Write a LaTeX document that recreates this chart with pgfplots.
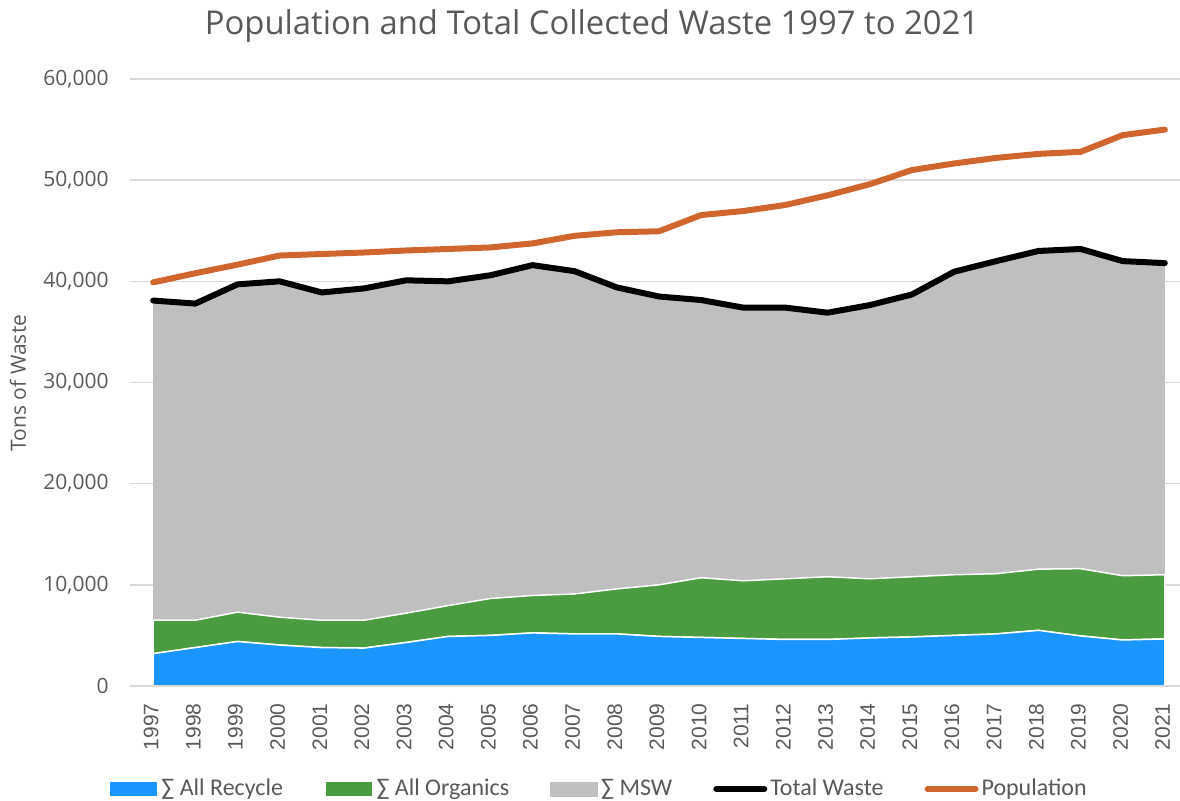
\documentclass[border=0pt]{standalone}
\usepackage{pgfplots}
\pgfplotsset{compat=1.18}
\usepackage{pgfplotstable}
\usepackage{fontspec}
\setmainfont{Open Sans}
\newfontfamily\carlito{Carlito}
\newfontfamily\libsans{Liberation Sans}
\definecolor{txtgray}{HTML}{595959}
\definecolor{gridgray}{HTML}{D9D9D9}
\definecolor{recblue}{HTML}{1B95FF}
\definecolor{orggreen}{HTML}{4B9B41}
\definecolor{mswgray}{HTML}{BFBFBF}
\definecolor{poporange}{HTML}{D0662E}

\pgfplotstableread{
year recycle organics msw total pop
1997 3200 3300 31600 38100 39900
1998 3800 2700 31300 37800 40800
1999 4400 2900 32400 39700 41650
2000 4050 2750 33200 40000 42550
2001 3800 2700 32400 38900 42700
2002 3750 2750 32800 39300 42850
2003 4300 2900 32900 40100 43050
2004 4900 3050 32050 40000 43200
2005 5000 3650 31950 40600 43350
2006 5250 3700 32650 41600 43750
2007 5150 3950 31900 41000 44500
2008 5150 4450 29800 39400 44850
2009 4900 5100 28500 38500 44950
2010 4800 5900 27450 38150 46550
2011 4700 5700 27000 37400 46950
2012 4600 6000 26800 37400 47550
2013 4600 6200 26100 36900 48500
2014 4750 5850 27050 37650 49600
2015 4850 5950 27900 38700 51000
2016 5000 6000 29950 40950 51650
2017 5150 5950 30900 42000 52200
2018 5500 6050 31450 43000 52600
2019 4950 6650 31600 43200 52800
2020 4550 6350 31100 42000 54450
2021 4650 6350 30800 41800 55000
}\datatable

\begin{document}
\begin{tikzpicture}
\useasboundingbox (0,0) rectangle (590bp,400.5bp);
\pgfplotsset{
  common/.style={
    scale only axis,
    width=525bp, height=303.5bp,
    at={(65bp,57.5bp)}, anchor=south west,
    xmin=1996.45, xmax=2021.36,
    ymin=0, ymax=60000,
  }
}
\begin{axis}[
  common,
  stack plots=y,
  axis line style={draw=none},
  major tick length=0pt,
  ytick={0,10000,...,60000},
  scaled y ticks=false,
  ymajorgrids,
  grid style={draw=gridgray, line width=0.75bp},
  xtick={1997,...,2021},
  /pgf/number format/assume math mode=true,
  x tick label style={/pgf/number format/1000 sep={}, yshift=-8.5bp, xshift=-1bp, rotate=90, anchor=east, inner sep=0pt, font=\libsans\fontsize{10.5bp}{12bp}\selectfont, text=txtgray},
  y tick label style={/pgf/number format/1000 sep={,}, anchor=east, inner sep=0pt, xshift=-10.5bp, font=\fontsize{10.5bp}{12bp}\selectfont, text=txtgray},
  legend columns=5,
  legend style={at={(rel axis cs:0.447,-0.1697)}, anchor=center, draw=none, fill=none,
    font=\carlito\fontsize{12bp}{14bp}\selectfont, text=txtgray,
    nodes={inner sep=1.5bp},
    /tikz/every even column/.append style={column sep=19bp}},
  legend image code/.code={\fill[#1] (0bp,-3.75bp) rectangle (24bp,3.75bp);},
]
\addplot[fill=recblue, draw=white, line width=0.75bp] table[x=year, y=recycle] {\datatable} \closedcycle;
\addlegendentry{∑ All Recycle}
\addplot[fill=orggreen, draw=white, line width=0.75bp] table[x=year, y=organics] {\datatable} \closedcycle;
\addlegendentry{∑ All Organics}
\addplot[fill=mswgray, draw=none] table[x=year, y=msw] {\datatable} \closedcycle;
\addlegendentry{∑ MSW}
\addlegendimage{legend image code/.code={\draw[black, line width=3bp, line cap=round] (1.5bp,0bp) -- (25.5bp,0bp);}}
\addlegendentry{Total Waste}
\addlegendimage{legend image code/.code={\draw[poporange, line width=3bp, line cap=round] (1.5bp,0bp) -- (25.5bp,0bp);}}
\addlegendentry{Population}
\end{axis}
\begin{axis}[
  common,
  axis y line=none,
  axis x line*=bottom,
  x axis line style={draw=gridgray, line width=1bp, -},
  xtick=\empty, ytick=\empty,
]
\addplot[black, line width=3bp, line join=round, line cap=round] table[x=year, y=total] {\datatable};
\addplot[poporange, line width=3bp, line join=round, line cap=round] table[x=year, y=pop] {\datatable};
\end{axis}
\node[anchor=base, text=txtgray, font=\fontsize{16.4bp}{19bp}\selectfont] at (296bp,383bp) {Population and Total Collected Waste 1997 to 2021};
\node[rotate=90, text=txtgray, font=\fontsize{10.5bp}{12bp}\selectfont] at (9bp,209bp) {Tons of Waste};
\end{tikzpicture}
\end{document}
